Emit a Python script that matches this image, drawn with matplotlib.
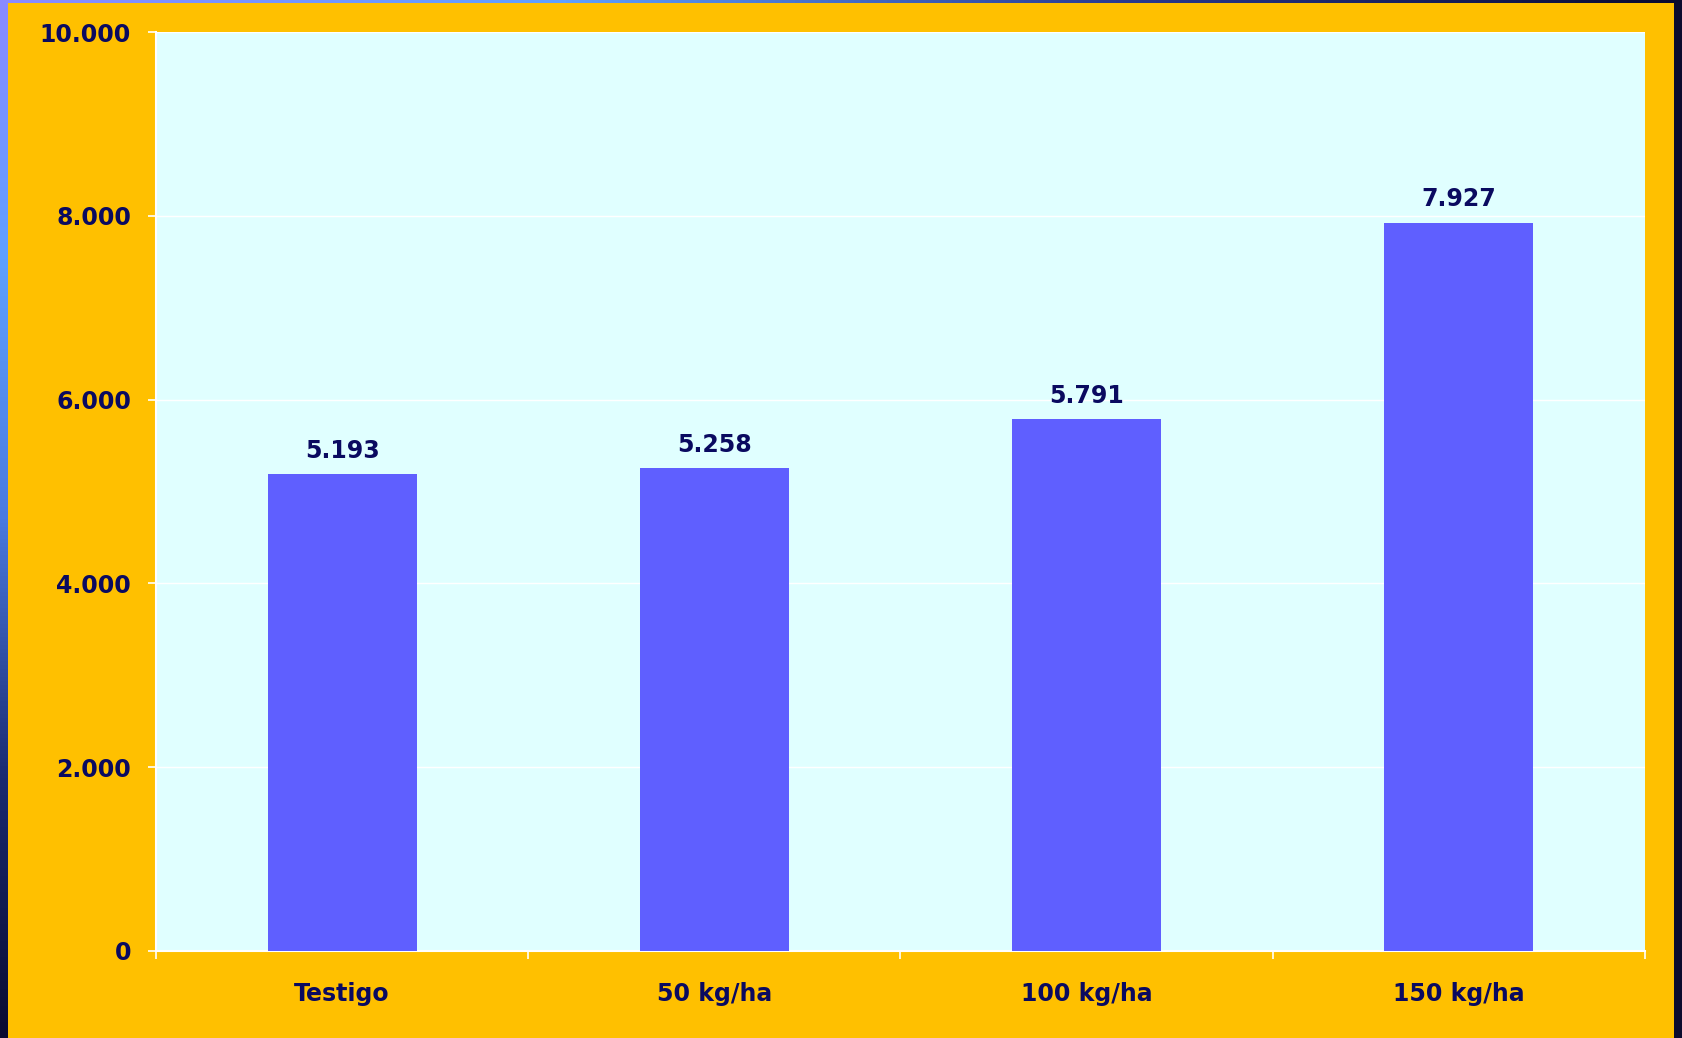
import matplotlib.pyplot as plt
import numpy as np
from matplotlib.ticker import FuncFormatter
from matplotlib.colors import LinearSegmentedColormap

# Datos
categorias = ["Testigo", "50 kg/ha", "100 kg/ha", "150 kg/ha"]
rendimiento = [5193, 5258, 5791, 7927]

naranja = "#FFC000"
fondo = "#E0FFFF"
barra = "#5F5FFF"
texto = "#0A0A60"

def miles(v, pos=None):
    return f"{int(v):,}".replace(",", ".")

fig = plt.figure(figsize=(16.82, 10.38), dpi=100)
fig.patch.set_facecolor(naranja)

# Bordes de la diapositiva (franja izquierda, superior y derecha)
W, H = 1682, 1038
izq = fig.add_axes([0, 0, 8 / W, 1])
grad = np.linspace(0, 1, 256).reshape(-1, 1)
cmap = LinearSegmentedColormap.from_list("borde", ["#8A8AFF", "#5FA0FF", "#4A7AE0", "#1A2A70", "#0A0A30"])
izq.imshow(grad, aspect="auto", cmap=cmap, extent=[0, 1, 1, 0])
izq.axis("off")
sup = fig.add_axes([0, 1 - 3 / H, 1, 3 / H])
sup.imshow(np.linspace(0, 1, 256).reshape(1, -1), aspect="auto",
           cmap=LinearSegmentedColormap.from_list("s", ["#8A8AFF", "#5FA0FF", "#2A3A90", "#0A0A30"]))
sup.axis("off")
der = fig.add_axes([1 - 8 / W, 0, 8 / W, 1])
der.set_facecolor("#0C0C2E")
der.set_xticks([]); der.set_yticks([])
for s in der.spines.values():
    s.set_visible(False)

ax = fig.add_axes([156 / W, 1 - 951 / H, (1645 - 156) / W, (951 - 32) / H])
ax.set_facecolor(fondo)

x = np.arange(len(categorias))
ax.bar(x, rendimiento, width=0.4, color=barra, zorder=3)

for xi, v in zip(x, rendimiento):
    ax.annotate(miles(v), (xi, v), xytext=(0, 8), textcoords="offset points",
                ha="center", va="bottom", fontsize=17, fontweight="bold", color=texto)

ax.set_xlim(-0.5, len(categorias) - 0.5)
ax.set_ylim(0, 10000)
ax.set_yticks(np.arange(0, 10001, 2000))
ax.yaxis.set_major_formatter(FuncFormatter(miles))
ax.grid(axis="y", color="white", linewidth=1, zorder=0)

ax.set_xticks(x)
ax.set_xticklabels(categorias)
ax.set_xticks(np.arange(-0.5, len(categorias)), minor=True)
ax.tick_params(axis="x", which="major", length=0, pad=22)
ax.tick_params(axis="x", which="minor", length=6, width=1.2, color="white")
ax.tick_params(axis="y", length=6, width=1.2, color="white", pad=12)

for lbl in ax.get_xticklabels() + ax.get_yticklabels():
    lbl.set_fontsize(17)
    lbl.set_fontweight("bold")
    lbl.set_color(texto)

for lado in ["top", "right"]:
    ax.spines[lado].set_visible(False)
for lado in ["left", "bottom"]:
    ax.spines[lado].set_color("white")
    ax.spines[lado].set_linewidth(1.5)

fig.savefig("out.png", dpi=100, facecolor=fig.get_facecolor())
